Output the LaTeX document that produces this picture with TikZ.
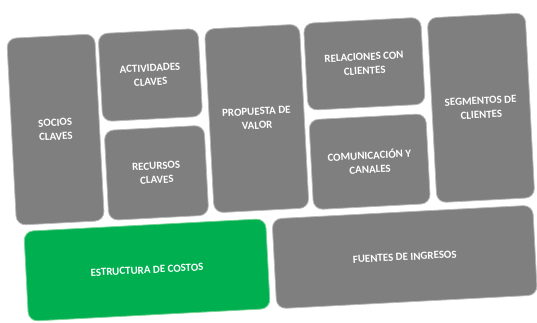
\documentclass[tikz,border=0pt]{standalone}
\usepackage{fontspec}
\setmainfont{Carlito}
\definecolor{boxgray}{RGB}{127,127,127}
\definecolor{boxgreen}{RGB}{0,176,80}
\definecolor{edgegray}{RGB}{185,185,185}
\definecolor{edgegreen}{RGB}{120,210,150}
\tikzset{
  cell/.style={rectangle, rounded corners=7pt, fill=boxgray, draw=edgegray, line width=0.6pt,
    text=white, font=\bfseries\fontsize{8.2}{10.5}\selectfont, align=center, inner sep=0pt,
    transform shape},
  greencell/.style={cell, fill=boxgreen, draw=edgegreen}
}
\begin{document}
\begin{tikzpicture}[x=0.75pt,y=-0.75pt]
\useasboundingbox (0,0) rectangle (537,323);
\begin{scope}[rotate around={3:(268,161)}]
\node[cell, minimum width=66pt, minimum height=140.25pt] (socios) at (57.5,118.5) {SOCIOS\\CLAVES};
\node[cell, minimum width=75pt, minimum height=66pt] (actividades) at (155,69) {ACTIVIDADES\\CLAVES};
\node[cell, minimum width=75pt, minimum height=67.5pt] (recursos) at (156,167) {RECURSOS\\CLAVES};
\node[cell, minimum width=71.25pt, minimum height=138pt] (propuesta) at (259,118) {PROPUESTA DE\\VALOR};
\node[cell, minimum width=88pt, minimum height=65.25pt] (relaciones) at (369.3,69) {RELACIONES CON\\CLIENTES};
\node[cell, minimum width=87.75pt, minimum height=67.5pt] (comunicacion) at (369.5,167) {COMUNICACIÓN Y\\CANALES};
\node[cell, minimum width=73.5pt, minimum height=138.75pt] (segmentos) at (483.5,119) {SEGMENTOS DE\\CLIENTES};
\node[greencell, minimum width=181.5pt, minimum height=67.5pt] (estructura) at (141.5,263.5) {ESTRUCTURA DE COSTOS};
\node[cell, minimum width=195.75pt, minimum height=67.5pt] (fuentes) at (399.5,264) {FUENTES DE INGRESOS};
\end{scope}
\end{tikzpicture}
\end{document}
